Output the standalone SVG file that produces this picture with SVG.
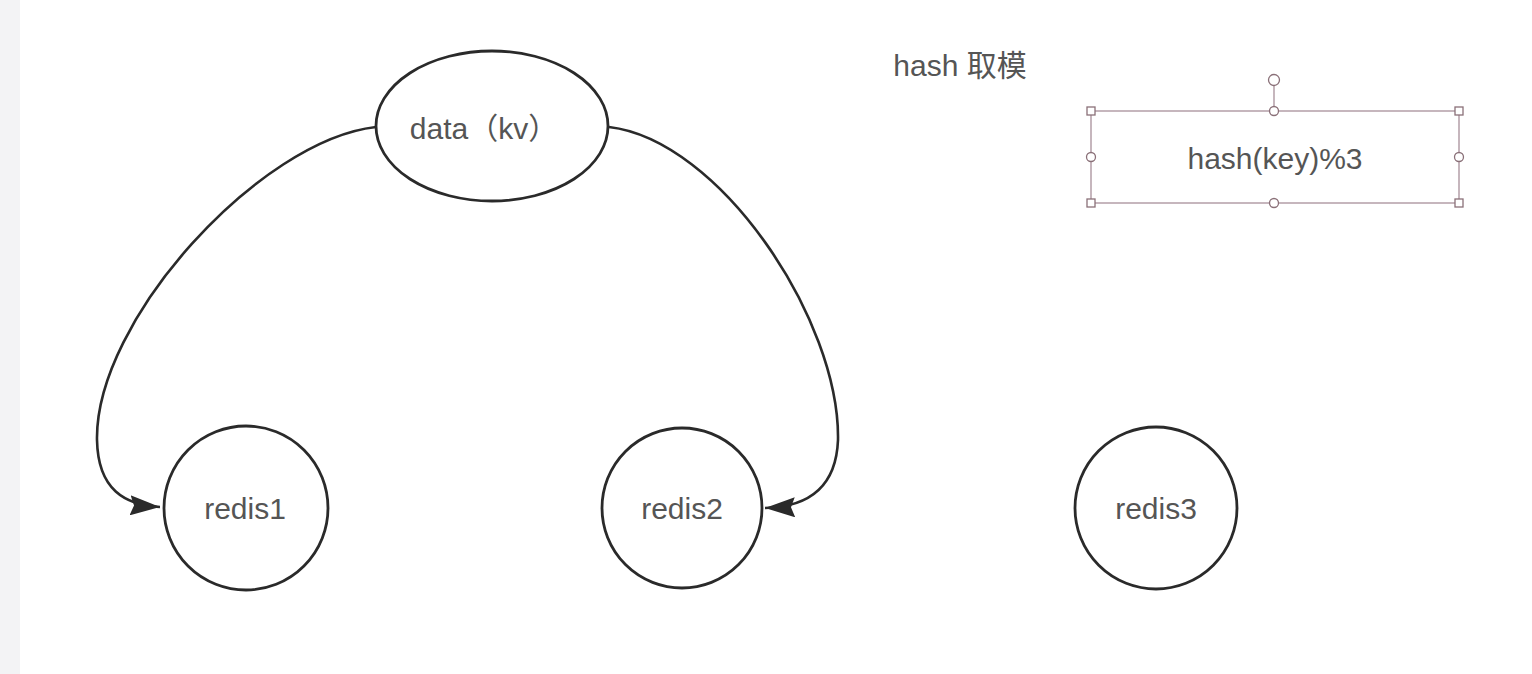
<svg xmlns="http://www.w3.org/2000/svg" width="1532" height="674" viewBox="0 0 1532 674">
<defs>
<style>
.node{fill:#fff;stroke:#2a2a2a;stroke-width:2.8}
.lbl{font-family:"Liberation Sans","Noto Sans CJK SC",sans-serif;font-size:30px;fill:#555;text-anchor:middle}
.edge{fill:none;stroke:#2a2a2a;stroke-width:2.6}
.sel{fill:none;stroke:#a8909a;stroke-width:1.3}
.hdl{fill:#fff;stroke:#8a7078;stroke-width:1.3}
</style>
<marker id="arr2" viewBox="0 0 30 20" refX="30" refY="10" markerWidth="30" markerHeight="20" markerUnits="userSpaceOnUse" orient="auto">
<path d="M0,0 L30,10 L0,20 L4,10 Z" fill="#2a2a2a"/>
</marker>
</defs>
<rect x="0" y="0" width="1532" height="674" fill="#fff"/>
<rect x="0" y="0" width="20" height="674" fill="#f3f3f5"/>
<g id="connectors">
<path class="edge" d="M376,127 C260,140 95,320 97,440 C98,490 125,505 160,507" marker-end="url(#arr2)"/>
<path class="edge" d="M609,127 C720,140 840,320 838,440 C836,490 805,507 765,508" marker-end="url(#arr2)"/>
</g>
<g id="data">
<ellipse class="node" cx="492" cy="126" rx="116" ry="75"/>
<text class="lbl" x="484" y="139">data（kv）</text>
</g>
<g id="redis1">
<circle class="node" cx="246" cy="508" r="82"/>
<text class="lbl" x="245" y="519">redis1</text>
</g>
<g id="redis2">
<circle class="node" cx="682" cy="508" r="80"/>
<text class="lbl" x="682" y="519">redis2</text>
</g>
<g id="redis3">
<circle class="node" cx="1156" cy="508" r="81"/>
<text class="lbl" x="1156" y="519">redis3</text>
</g>
<g id="title">
<text class="lbl" x="960" y="76">hash 取模</text>
</g>
<g id="hashbox">
<rect class="sel" x="1091" y="111" width="368" height="92"/>
<line class="sel" x1="1274" y1="86" x2="1274" y2="111"/>
<circle class="hdl" cx="1274" cy="80" r="5.5"/>
<rect class="hdl" x="1087" y="107" width="8" height="8"/>
<rect class="hdl" x="1455" y="107" width="8" height="8"/>
<rect class="hdl" x="1087" y="199" width="8" height="8"/>
<rect class="hdl" x="1455" y="199" width="8" height="8"/>
<circle class="hdl" cx="1274" cy="111" r="4.5"/>
<circle class="hdl" cx="1274" cy="203" r="4.5"/>
<circle class="hdl" cx="1091" cy="157" r="4.5"/>
<circle class="hdl" cx="1459" cy="157" r="4.5"/>
<text class="lbl" x="1275" y="169">hash(key)%3</text>
</g>
</svg>
